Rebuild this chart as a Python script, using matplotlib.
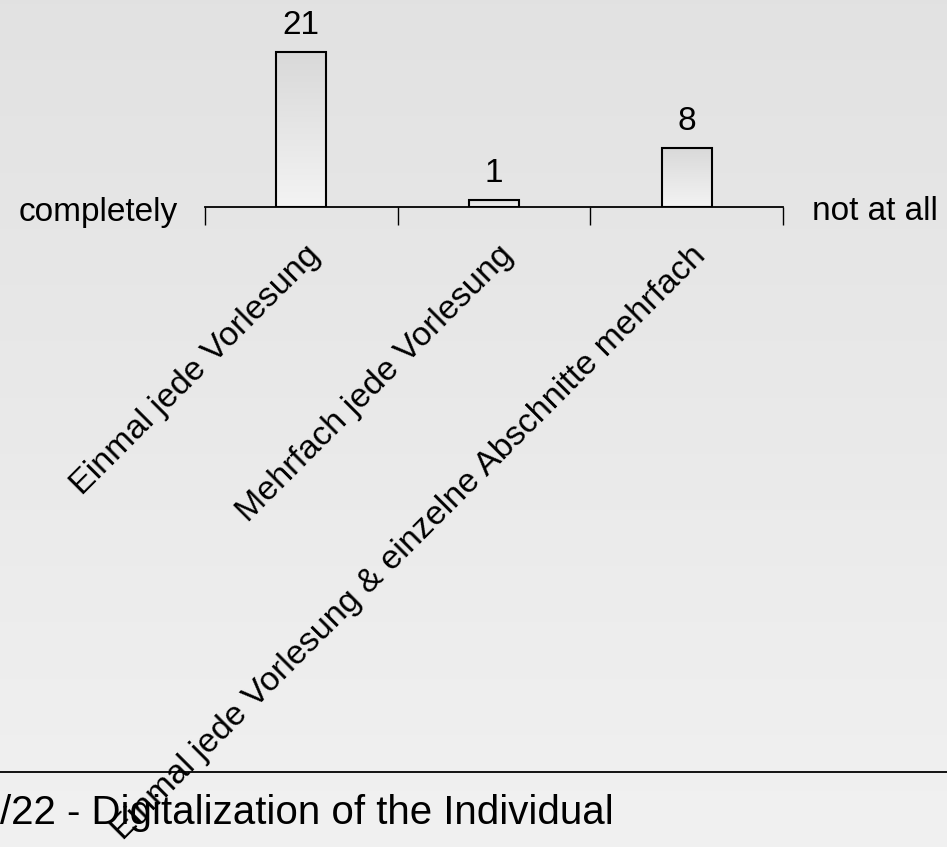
import numpy as np
import matplotlib
matplotlib.use("Agg")
import matplotlib.pyplot as plt
from matplotlib.lines import Line2D

categories = ["Einmal jede Vorlesung", "Mehrfach jede Vorlesung",
              "Einmal jede Vorlesung & einzelne Abschnitte mehrfach"]
counts = [21, 1, 8]
left_label = "completely"
right_label = "not at all"
footer = "/22 - Digitalization of the Individual"

plt.rcParams["font.family"] = ["Liberation Sans", "DejaVu Sans"]

W, H = 947, 847
fig = plt.figure(figsize=(W / 100, H / 100), dpi=100)

# background: vertical gray gradient
bg = fig.add_axes([0, 0, 1, 1], zorder=-10)
g = np.linspace(0.886, 0.945, 512)
bg.imshow(np.dstack([g, g, g]).reshape(-1, 1, 3), aspect="auto", extent=[0, 1, 1, 0])
bg.set_axis_off()

ax_left, ax_right, base_y = 205, 783, 207
ax = fig.add_axes([ax_left / W, (H - base_y) / H, (ax_right - ax_left) / W, base_y / H])
ax.patch.set_alpha(0)
n = len(categories)
for s in ["top", "left", "right"]:
    ax.spines[s].set_visible(False)
ax.spines["bottom"].set_linewidth(1.3)
ax.set_yticks([])
ax.set_xticks(np.arange(n + 1))
ax.set_xticklabels([])
ax.tick_params(axis="x", direction="out", length=13, width=1.0, color="black")

centers = np.arange(n) + 0.5
bar_w = 0.26
bg_bar = np.linspace(0.85, 0.955, 256)
bar_img = np.dstack([bg_bar, bg_bar, bg_bar]).reshape(-1, 1, 3)
for x, v in zip(centers, counts):
    rect = ax.bar(x, v, width=bar_w, facecolor="none", edgecolor="black",
                  linewidth=1.5, zorder=3)[0]
    im = ax.imshow(bar_img, aspect="auto",
                   extent=[x - bar_w / 2, x + bar_w / 2, 0, v], origin="upper", zorder=2)
    im.set_clip_path(rect)
    ax.annotate(str(v), xy=(x, v), xytext=(0, 11), textcoords="offset pixels",
                ha="center", va="bottom", fontsize=24, annotation_clip=False)
ax.set_xlim(0, n)
ax.set_ylim(0, 28.0)

for x, lab in zip(centers, categories):
    ax.annotate(lab, xy=(x, 0), xytext=(14, -44), textcoords="offset pixels",
                rotation=45, rotation_mode="anchor", ha="right", va="center",
                fontsize=24.5, annotation_clip=False)

fig.text(178 / W, 1 - 212 / H, left_label, ha="right", va="center", fontsize=24)
fig.text(812 / W, 1 - 212 / H, right_label, ha="left", va="center", fontsize=24)

fig.add_artist(Line2D([0, 1], [1 - 772 / H, 1 - 772 / H], color="black", linewidth=1.3))
fig.text(0, 1 - 813 / H, footer, ha="left", va="center", fontsize=29)

fig.savefig("out.png", dpi=100)
